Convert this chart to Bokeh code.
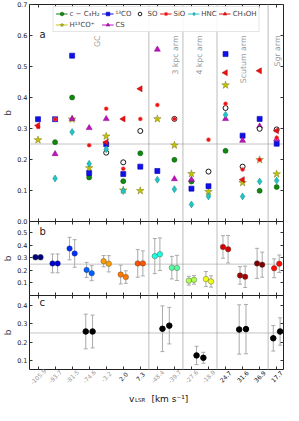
import numpy as np
from bokeh.plotting import figure
from bokeh.models import (ColumnDataSource, Span, Label, Whisker, TeeHead, FixedTicker,
                          LinearAxis, Legend, LegendItem, PrintfTickFormatter, Range1d)
from bokeh.core.properties import value
from bokeh.layouts import column
from bokeh.embed import file_html
from bokeh.resources import INLINE

nan = np.nan

# ---------------- data ----------------
tick_labels = ["-105.9", "-93.7", "-81.5", "-74.6", "-3.2", "2.0", "7.3", "-48.4", "-39.7",
               "-27.6", "-18.9", "24.7", "31.6", "36.9", "17.7"]
velocities = [float(t) for t in tick_labels]

# panel a : b per species
c_C3H2 = [nan, 0.256, 0.400, 0.142, nan, 0.130, 0.220, nan, 0.199, 0.129, nan, 0.228, nan, 0.099, 0.111]
H13COp = [0.263, nan, 0.330, 0.173, 0.275, 0.101, 0.099, 0.331, 0.246, 0.154, 0.096, 0.440, 0.125, 0.199, 0.153]
CO13 = [0.330, 0.330, 0.535, 0.156, 0.249, 0.153, 0.177, 0.163, nan, 0.106, 0.114, 0.540, 0.277, 0.331, 0.251]
CS = [nan, 0.218, 0.331, 0.302, 0.331, nan, nan, 0.555, 0.137, 0.135, nan, 0.331, 0.261, 0.307, 0.266]
SO = [nan, nan, nan, nan, 0.222, 0.191, 0.292, nan, 0.331, nan, 0.161, 0.366, 0.177, 0.299, 0.297]
SiO = [0.305, 0.330, nan, 0.246, 0.364, 0.170, 0.331, 0.376, 0.331, nan, 0.264, 0.380, 0.168, 0.199, 0.270]
HNC = [nan, 0.139, 0.289, 0.186, 0.233, 0.098, nan, 0.135, 0.104, 0.055, 0.081, 0.344, 0.081, 0.129, 0.132]
CH3OH = [0.310, nan, nan, nan, 0.256, 0.331, 0.428, nan, nan, nan, nan, 0.480, 0.135, 0.486, 0.293]

# panel b : two estimates per velocity component
b_left = [0.305, 0.256, 0.374, 0.204, 0.274, 0.167, 0.256, 0.314, 0.222, 0.118, 0.131, 0.387, 0.160, 0.256, 0.217]
b_left_err = [0.02, 0.075, 0.09, 0.06, 0.045, 0.075, 0.11, 0.14, 0.09, 0.035, 0.06, 0.09, 0.07, 0.12, 0.075]
b_right = [0.305, 0.256, 0.335, 0.178, 0.253, 0.147, 0.256, 0.329, 0.220, 0.125, 0.112, 0.369, 0.149, 0.246, 0.253]
b_right_err = [0.02, 0.075, 0.11, 0.06, 0.065, 0.05, 0.10, 0.13, 0.10, 0.035, 0.045, 0.11, 0.085, 0.10, 0.07]

# panel c : per region
regions = ["GC", "3 kpc arm", "4 kpc arm", "Scutum arm", "Sgr arm"]
region_members = [[0, 1, 2, 3, 4, 5, 6], [7, 8], [9, 10], [11, 12, 13], [14]]
c_left = [0.258, 0.273, 0.127, 0.269, 0.221]
c_left_err = [0.095, 0.125, 0.05, 0.135, 0.07]
c_right = [0.258, 0.290, 0.114, 0.271, 0.258]
c_right_err = [0.09, 0.10, 0.03, 0.135, 0.075]

b_ref = 0.25

# ---------------- styling helpers ----------------
FONT = "DejaVu Sans"
idx = list(range(len(tick_labels)))
W = 284
LB = 25
xr = Range1d(-0.5, 14.4)
OVL = 5  # overlap between stacked panels (px)


def jet(t):
    t = min(max(t, 0.0), 1.0)
    f = lambda v: min(max(v, 0.0), 1.0)
    r, g, b = f(1.5 - abs(4 * t - 3)), f(1.5 - abs(4 * t - 2)), f(1.5 - abs(4 * t - 1))
    return "#%02x%02x%02x" % (int(r * 255), int(g * 255), int(b * 255))


vmin, vmax = min(velocities), max(velocities)
comp_colors = [jet((v - vmin) / (vmax - vmin)) for v in velocities]
boundaries = [m[-1] + 0.5 for m in region_members[:-1]]
region_centers = [float(np.mean(m)) for m in region_members]


def tick_axis(ticks, **kw):
    return LinearAxis(ticker=FixedTicker(ticks=ticks), major_label_overrides={t: "" for t in ticks},
                      major_label_text_font_size="1px", major_label_standoff=0,
                      minor_tick_line_color=None, axis_line_color=None,
                      major_tick_line_color="#333333", **kw)


def make_fig(h, yr, yticks, top, bottom, tick_out_bottom=3, overlap_top=False, with_top_axis=False):
    kw = {}
    if overlap_top:
        kw["margin"] = (-OVL, 0, 0, 0)
    p = figure(width=W, height=h, x_range=xr, y_range=Range1d(*yr), output_backend="svg",
               toolbar_location=None, min_border_left=LB, min_border_right=1,
               min_border_top=top, min_border_bottom=bottom, x_axis_location=None, **kw)
    p.xgrid.visible = False
    p.ygrid.visible = False
    p.outline_line_color = "#222222"
    p.outline_line_width = 1
    p.background_fill_alpha = 0
    p.border_fill_alpha = 0
    p.add_layout(tick_axis(idx, major_tick_in=3, major_tick_out=tick_out_bottom), "below")
    if with_top_axis:
        p.add_layout(tick_axis(idx, major_tick_in=3, major_tick_out=0), "above")
    ly = p.yaxis[0]
    ly.ticker = FixedTicker(ticks=yticks)
    ly.formatter = PrintfTickFormatter(format="%.1f")
    ly.major_label_text_font_size = "6.5px"
    ly.major_label_text_font = FONT
    ly.major_label_text_color = "#222222"
    ly.major_label_standoff = 2
    ly.major_tick_in = 3
    ly.major_tick_out = 0
    ly.minor_tick_line_color = None
    ly.axis_line_color = None
    ly.major_tick_line_color = "#333333"
    ly.axis_label = "b"
    ly.axis_label_text_font = FONT
    ly.axis_label_text_font_style = "normal"
    ly.axis_label_text_font_size = "9px"
    ly.axis_label_standoff = 1
    p.add_layout(tick_axis(yticks, major_tick_in=3, major_tick_out=0), "right")
    for bnd in boundaries:
        p.add_layout(Span(location=bnd, dimension="height", line_color="#c8c8c8",
                          line_width=1.2, level="underlay"))
    p.add_layout(Span(location=b_ref, dimension="width", line_color="#888888",
                      line_dash="1 1", line_width=1, level="underlay"))
    return p


# ---------------- panel a ----------------
pa = make_fig(4 + 217 + OVL, (0.0, 0.7), [0.0, 0.1, 0.2, 0.3, 0.4, 0.5, 0.6, 0.7], top=4, bottom=OVL,
              with_top_axis=True)

series = [
    ("c − C₃H₂", c_C3H2, dict(marker="circle", size=5, fill_color="#118811", line_color="#0a5a0a", line_width=0.6), "#118811"),
    ("¹³CO", CO13, dict(marker="square", size=5, fill_color="#1010ee", line_color="#0000aa", line_width=0.6), "#1010ee"),
    ("SO", SO, dict(marker="circle", size=5, fill_color="white", line_color="black", line_width=0.9), None),
    ("SiO", SiO, dict(marker="circle", size=4, fill_color="#ee1111", line_color="#ff6666", line_width=0.5), "#ee1111"),
    ("HNC", HNC, dict(marker="diamond", size=7, fill_color="#22c4c4", line_color="#118888", line_width=0.5), "#22c4c4"),
    ("CH₃OH", CH3OH, dict(marker="triangle", size=6, angle=90, angle_units="deg", fill_color="#ee1111", line_color="#aa0000", line_width=0.5), "#ee1111"),
    ("H¹³CO⁺", H13COp, dict(marker="star", size=8, fill_color="#c4c400", line_color="#7a7a22", line_width=0.5), "#c4c400"),
    ("CS", CS, dict(marker="triangle", size=6, fill_color="#c010c0", line_color="#800080", line_width=0.5), "#c010c0"),
]
draw_order = ["c − C₃H₂", "H¹³CO⁺", "¹³CO", "CS", "SO", "SiO", "HNC", "CH₃OH"]
renderers = {}
for name in draw_order:
    lab, vals, kw, lc = next(s for s in series if s[0] == name)
    r = pa.scatter(x=idx, y=vals, **kw)
    renderers[name] = (r, lc)

items = []
for lab, vals, kw, lc in series:
    r, lcol = renderers[lab]
    rs = []
    if lcol is not None:
        lr = pa.line(x=[nan], y=[nan], line_color=lcol, line_width=1)
        rs.append(lr)
    rs.append(r)
    items.append(LegendItem(label=lab, renderers=rs))

leg = Legend(items=items, orientation="horizontal", ncols=6, location="top_center",
             label_text_font=FONT, label_text_font_size="7px", label_standoff=2, label_width=0,
             glyph_width=12, glyph_height=9, label_height=8, spacing=2, padding=2, margin=2,
             border_line_color="#cccccc", border_line_width=1, background_fill_alpha=0.85)
pa.add_layout(leg, "center")

pa.add_layout(Label(x=10, x_units="screen", y=0.585, text="a", text_font=FONT,
                    text_font_size="10px", text_color="#222222"))
region_text_x = [3.5, 8.05, 9.5, 12.05, 14.05]
for name, xt in zip(regions, region_text_x):
    pa.add_layout(Label(x=xt, y=0.60, text=name, angle=90, angle_units="deg", text_align="right",
                        text_baseline="middle", text_font=FONT, text_font_size="7.8px",
                        text_color="#9a9a9a"))

# ---------------- panel b ----------------
pb = make_fig(74 + OVL, (0.0, 0.59), [0.1, 0.2, 0.3, 0.4, 0.5], top=0, bottom=OVL, overlap_top=True)
off_b = 0.15
for vals, errs, sgn in ((b_left, b_left_err, -1), (b_right, b_right_err, 1)):
    src = ColumnDataSource(dict(x=[i + sgn * off_b for i in idx], y=vals,
                                up=[v + e for v, e in zip(vals, errs)],
                                lo=[v - e for v, e in zip(vals, errs)], col=comp_colors))
    pb.add_layout(Whisker(source=src, base="x", upper="up", lower="lo", dimension="height",
                          line_color="#aaaaaa", line_width=1,
                          upper_head=TeeHead(size=4, line_color="#aaaaaa", line_width=1),
                          lower_head=TeeHead(size=4, line_color="#aaaaaa", line_width=1)))
    pb.scatter(x="x", y="y", source=src, marker="circle", size=5.5, fill_color="col",
               line_color="#333333", line_alpha=0.6, line_width=0.6)
pb.add_layout(Label(x=10, x_units="screen", y=0.47, text="b", text_font=FONT,
                    text_font_size="10px", text_color="#222222"))

# ---------------- panel c ----------------
pc = make_fig(74 + 3, (0.05, 0.455), [0.1, 0.2, 0.3, 0.4], top=0, bottom=3, tick_out_bottom=0,
              overlap_top=True)
off_c = 0.2
for vals, errs, sgn in ((c_left, c_left_err, -1), (c_right, c_right_err, 1)):
    src = ColumnDataSource(dict(x=[c + sgn * off_c for c in region_centers], y=vals,
                                up=[v + e for v, e in zip(vals, errs)],
                                lo=[v - e for v, e in zip(vals, errs)]))
    pc.add_layout(Whisker(source=src, base="x", upper="up", lower="lo", dimension="height",
                          line_color="#aaaaaa", line_width=1,
                          upper_head=TeeHead(size=4, line_color="#aaaaaa", line_width=1),
                          lower_head=TeeHead(size=4, line_color="#aaaaaa", line_width=1)))
    pc.scatter(x="x", y="y", source=src, marker="circle", size=5.5, fill_color="black",
               line_color="black")
pc.add_layout(Label(x=10, x_units="screen", y=0.385, text="c", text_font=FONT,
                    text_font_size="10px", text_color="#222222"))

# ---------------- tick labels and x label (strip under panel c) ----------------
HD = 41
pd_ = figure(width=W, height=HD, x_range=xr, y_range=Range1d(0, HD), output_backend="svg",
             toolbar_location=None, min_border_left=LB, min_border_right=1,
             min_border_top=0, min_border_bottom=0, margin=(-8, 0, 0, 0))
pd_.axis.visible = False
pd_.xgrid.visible = False
pd_.ygrid.visible = False
pd_.outline_line_color = None
pd_.background_fill_alpha = 0
pd_.border_fill_alpha = 0
lab_src = ColumnDataSource(dict(x=idx, text=tick_labels,
                                col=["#9a9a9a" if v < 0 else "#111111" for v in velocities]))
pd_.text(x="x", y=HD - 12, text="text", source=lab_src, angle=45, angle_units="deg",
         text_align="center", text_baseline="middle", text_font=value(FONT),
         text_font_size="6px", text_color="col")
xl_x = 5.33
xl_y = 7
pd_.text(x=[xl_x], y=[xl_y], text=["v"], text_font=value(FONT), text_font_size="9px",
         text_baseline="alphabetic", text_color="#111111")
pd_.text(x=[xl_x], y=[xl_y], text=["LSR"], x_offset=6, y_offset=1.5, text_font=value(FONT),
         text_font_size="5.5px", text_baseline="alphabetic", text_color="#111111")
pd_.text(x=[xl_x], y=[xl_y], text=["[km s⁻¹]"], x_offset=22.5, text_font=value(FONT),
         text_font_size="9px", text_baseline="alphabetic", text_color="#111111")

layout = column(pa, pb, pc, pd_, spacing=0)
open("out.html", "w").write(file_html(layout, INLINE))
